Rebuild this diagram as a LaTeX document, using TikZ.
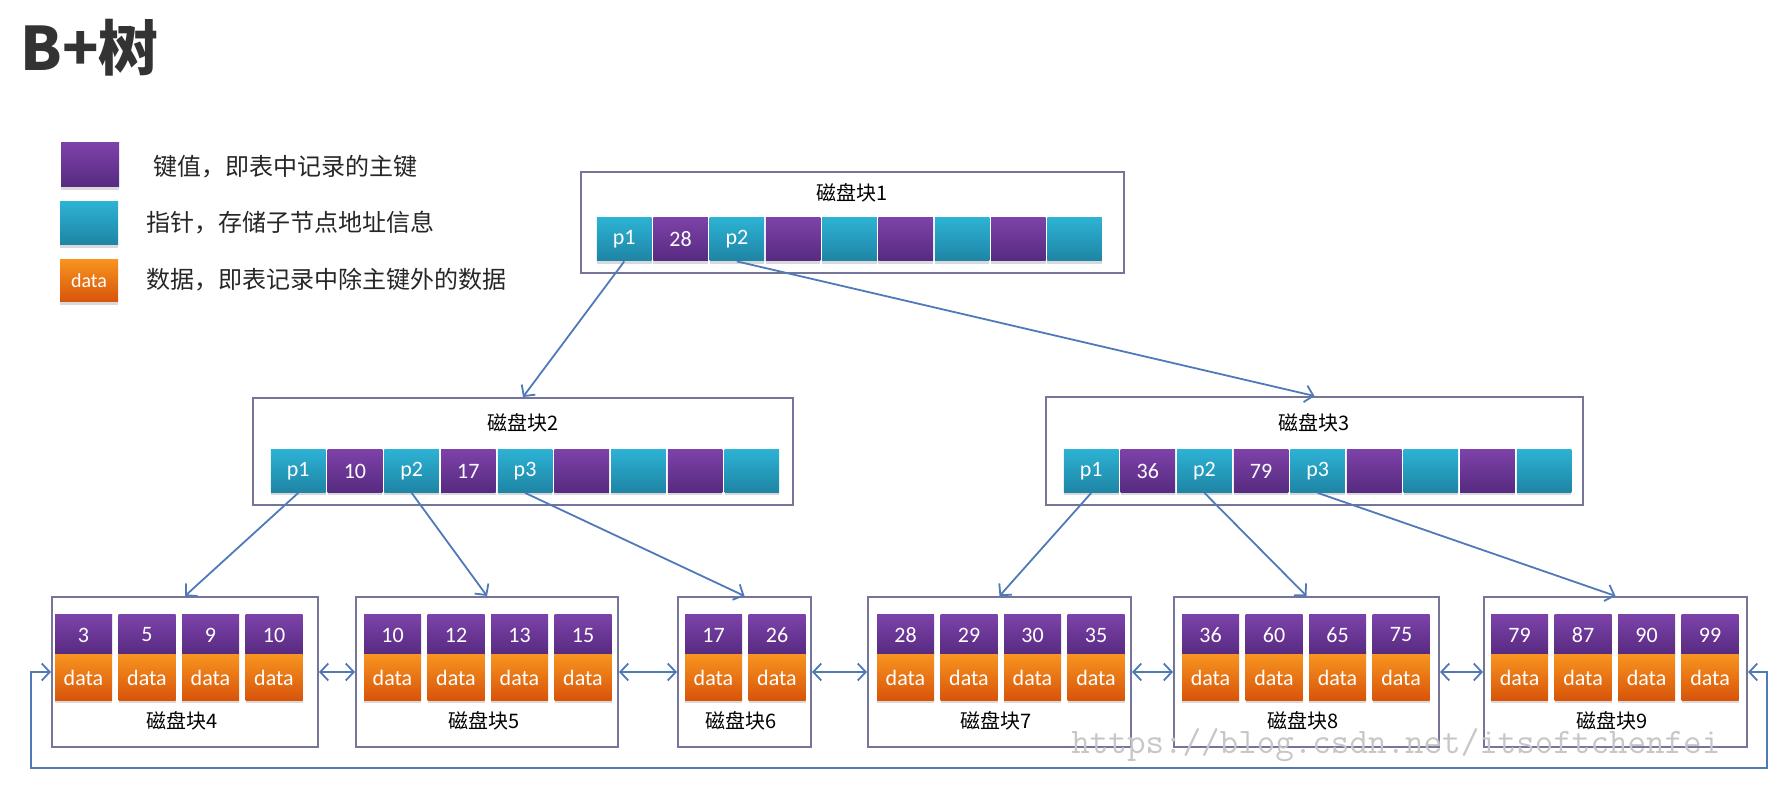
\documentclass[tikz,border=0pt]{standalone}
\usepackage{fontspec}
\setmainfont{Carlito}
\newfontfamily\cjk{Noto Sans CJK SC}
\usetikzlibrary{arrows.meta,shadows}

\definecolor{keytop}{HTML}{7D42A9}
\definecolor{keybot}{HTML}{562A80}
\definecolor{ptrtop}{HTML}{2DB2D4}
\definecolor{ptrbot}{HTML}{1E84A4}
\definecolor{datatop}{HTML}{F7931F}
\definecolor{databot}{HTML}{D8540A}
\definecolor{boxline}{HTML}{75759A}
\definecolor{linkblue}{HTML}{5079B9}

\begin{document}
\begin{tikzpicture}[x=0.5pt,y=-0.5pt,
  cell/.style={inner sep=0pt,text=white,font=\fontsize{11}{11}\selectfont,
    drop shadow={shadow xshift=0pt,shadow yshift=-1.5pt,opacity=0.3}},
  ptrcell/.style={cell,minimum width=27.3pt,minimum height=21.5pt,top color=ptrtop,bottom color=ptrbot},
  keycell/.style={cell,minimum width=27.3pt,minimum height=21.5pt,top color=keytop,bottom color=keybot},
  leafkey/.style={cell,minimum width=28.5pt,minimum height=20pt,top color=keytop,bottom color=keybot},
  leafdata/.style={cell,minimum width=28.5pt,minimum height=22.5pt,top color=datatop,bottom color=databot},
  disk/.style={draw=boxline,line width=1pt,inner sep=0pt},
  disklabel/.style={font=\cjk\fontsize{10}{10}\selectfont,inner sep=0pt},
  legendtext/.style={anchor=west,inner sep=0pt,text=black!85,font=\cjk\fontsize{12}{12}\selectfont},
  link/.style={draw=linkblue,line width=0.9pt,-{Straight Barb[length=4pt,width=8.5pt]}},
  sibling/.style={link,{Straight Barb[length=4pt,width=8.5pt]}-{Straight Barb[length=4pt,width=8.5pt]}}]
  \useasboundingbox (0,0) rectangle (1787,795);

  \node[anchor=west,inner sep=0pt,text=black!80,font=\cjk\bfseries\fontsize{30}{30}\selectfont] (title) at (20,48) {B+树};

  % legend
  \node[keycell,minimum width=29pt,minimum height=22pt] (lgkey) at (90,165) {};
  \node[ptrcell,minimum width=29pt,minimum height=21.5pt] (lgptr) at (89,223.5) {};
  \node[leafdata,minimum width=29pt,minimum height=21pt,font=\fontsize{10}{10}\selectfont] (lgdata) at (89,281) {data};
  \node[legendtext] at (153,167) {键值，即表中记录的主键};
  \node[legendtext] at (146,223) {指针，存储子节点地址信息};
  \node[legendtext] at (146,280) {数据，即表记录中除主键外的数据};

  % root
  \node[disk,minimum width=271.5pt,minimum height=50.5pt] (blk1) at (852.5,222.5) {};
  \node[disklabel] at (852,193) {磁盘块1};
  \foreach \t [count=\i] in {p1,p2,{},{},{}}
    \node[ptrcell] (b1p\i) at ({624.25+112.6*(\i-1)},239.5) {\t};
  \foreach \t [count=\i] in {28,{},{},{}}
    \node[keycell] at ({680.55+112.6*(\i-1)},239.5) {\t};

  % inner blocks
  \node[disk,minimum width=270pt,minimum height=53.5pt] (blk2) at (523,451.5) {};
  \node[disklabel] at (523,423) {磁盘块2};
  \foreach \t [count=\i] in {p1,p2,p3,{},{}}
    \node[ptrcell] (b2p\i) at ({298.25+113.4*(\i-1)},471) {\t};
  \foreach \t [count=\i] in {10,17,{},{}}
    \node[keycell] at ({354.95+113.4*(\i-1)},471) {\t};

  \node[disk,minimum width=268.5pt,minimum height=54pt] (blk3) at (1314.5,451) {};
  \node[disklabel] at (1314,423) {磁盘块3};
  \foreach \t [count=\i] in {p1,p2,p3,{},{}}
    \node[ptrcell] (b3p\i) at ({1091.25+113.2*(\i-1)},471) {\t};
  \foreach \t [count=\i] in {36,79,{},{}}
    \node[keycell] at ({1147.85+113.2*(\i-1)},471) {\t};

  % leaves
  \foreach \n/\bl/\br/\cx/\keys in {4/52/318/55/{3,5,9,10},5/356/618/364/{10,12,13,15},
      6/678/811/685/{17,26},7/868/1131/877/{28,29,30,35},
      8/1174/1439/1182/{36,60,65,75},9/1484/1747/1491/{79,87,90,99}} {
    \node[disk,minimum width={(\br-\bl)*0.5pt},minimum height=75pt] (leaf\n) at ({(\bl+\br)/2},672) {};
    \foreach \k [count=\j from 0] in \keys {
      \node[leafkey] at ({\cx+28.5+63.5*\j},635) {\k};
      \node[leafdata] at ({\cx+28.5+63.5*\j},677.5) {data};
    }
    \node[disklabel] at ({(\bl+\br)/2-3},721) {磁盘块\n};
  }

  \draw[link] (b1p1.south) -- (blk2.north);
  \draw[link] (b1p2.south) -- (blk3.north);
  \draw[link] (b2p1.south) -- (leaf4.north);
  \draw[link] (b2p2.south) -- (leaf5.north);
  \draw[link] (b2p3.south) -- (leaf6.north);
  \draw[link] (b3p1.south) -- (leaf7.north);
  \draw[link] (b3p2.south) -- (leaf8.north);
  \draw[link] (b3p3.south) -- (leaf9.north);

  \draw[sibling] (leaf4.east) -- (leaf5.west);
  \draw[sibling] (leaf5.east) -- (leaf6.west);
  \draw[sibling] (leaf6.east) -- (leaf7.west);
  \draw[sibling] (leaf7.east) -- (leaf8.west);
  \draw[sibling] (leaf8.east) -- (leaf9.west);
  \coordinate (loopR) at (1767,768);
  \coordinate (loopL) at (31,768);
  \draw[sibling] (leaf9.east) -| (loopR) -- (loopL) |- (leaf4.west);

  \node[anchor=base west,inner sep=0pt,text=black!22,font=\ttfamily\fontsize{18}{18}\selectfont] (mark) at (1071,753) {https://blog.csdn.net/itsoftchenfei};
\end{tikzpicture}
\end{document}
